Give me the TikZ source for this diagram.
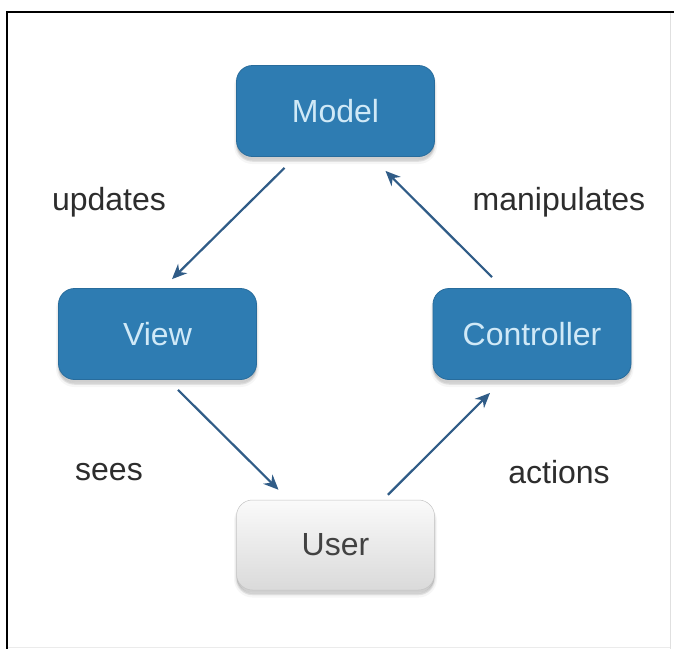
\documentclass[tikz,border=0pt]{standalone}
\usepackage{fontspec}
\setmainfont{Liberation Sans}
\usetikzlibrary{arrows.meta,calc}
\definecolor{boxblue}{RGB}{46,124,178}
\definecolor{boxedge}{RGB}{40,108,156}
\definecolor{boxtext}{RGB}{208,233,247}
\definecolor{arrowblue}{RGB}{48,92,135}
\definecolor{labelgray}{RGB}{45,45,45}
\definecolor{usertop}{RGB}{250,250,250}
\definecolor{userbottom}{RGB}{218,218,218}
\tikzset{
  softshadow/.style={
    preaction={draw=black, fill=black, line width=5pt, opacity=0.035, transform canvas={yshift=-5pt}},
    preaction={draw=black, fill=black, line width=2.5pt, opacity=0.06, transform canvas={yshift=-4pt}},
    preaction={fill=black, opacity=0.10, transform canvas={yshift=-2.5pt}}},
  mvcbox/.style={rounded corners=16pt, minimum width=198pt, minimum height=91pt,
    fill=boxblue, draw=boxedge, line width=0.8pt, text=boxtext,
    font=\fontsize{32}{36}\selectfont, softshadow},
  userbox/.style={rounded corners=16pt, minimum width=198pt, minimum height=90pt,
    top color=usertop, bottom color=userbottom, draw=userbottom!90!black, line width=0.5pt,
    text=labelgray!90!white, font=\fontsize{32}{36}\selectfont, softshadow},
  flow/.style={draw=arrowblue, line width=2.2pt, -{Stealth[length=15pt,width=13pt]}},
  edgelabel/.style={text=labelgray, font=\fontsize{32}{36}\selectfont}
}
\begin{document}
\begin{tikzpicture}[x=1pt,y=-1pt]
  \useasboundingbox (0,0) rectangle (674,649);
  \fill[white] (0,0) rectangle (674,649);
  % frame
  \draw[line width=2.2pt, black] (6,12) -- (674,12);
  \draw[line width=2.2pt, black] (7,11) -- (7,649);
  \draw[line width=0.6pt, black!12] (670,13) -- (670,649);
  \draw[line width=0.6pt, black!8] (8,647) -- (670,647);

  % components
  \node[mvcbox]  (model) at (335.5,111) {Model};
  \node[mvcbox]  (view)  at (157.5,334) {View};
  \node[mvcbox]  (ctrl)  at (532,334)   {Controller};
  \node[userbox] (user)  at (335.5,545) {User};

  % edge labels
  \node[edgelabel] (lupd)  at (109,202) {updates};
  \node[edgelabel] (lman)  at (559,202) {manipulates};
  \node[edgelabel] (lsee)  at (109,472) {sees};
  \node[edgelabel] (lact)  at (559,472) {actions};

  % relations
  \draw[flow] ($(model.south)+(-51,11)$) -- ($(view.north)+(14.5,-9)$);
  \draw[flow] ($(ctrl.north)+(-40,-11)$) -- ($(model.south)+(50,14)$);
  \draw[flow] ($(view.south)+(20.5,10)$) -- ($(user.north)+(-57,-10)$);
  \draw[flow] ($(user.north)+(52.5,-5)$) -- ($(ctrl.south)+(-42,13)$);
\end{tikzpicture}
\end{document}
